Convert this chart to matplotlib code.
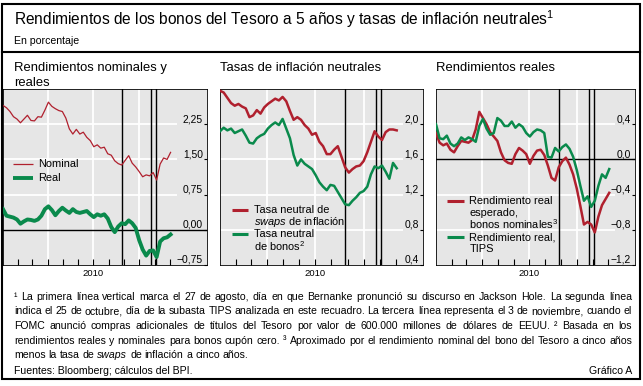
import matplotlib.pyplot as plt
import pandas as pd
from matplotlib.lines import Line2D
from matplotlib.patches import Rectangle

plt.rcParams["font.family"] = ["Liberation Sans", "DejaVu Sans"]
plt.rcParams["mathtext.fontset"] = "custom"
plt.rcParams["mathtext.rm"] = "Liberation Sans"
plt.rcParams["mathtext.it"] = "Liberation Sans:italic"

# weekly observations, 1 Jan - 3 Dec 2010 (per cent)
dates = pd.date_range("2010-01-01", periods=49, freq="7D")
events = pd.to_datetime(["2010-08-27", "2010-10-25", "2010-11-03"])
month_ticks = pd.date_range("2010-02-01", "2010-12-01", freq="MS")
quarter_lines = pd.to_datetime(["2010-04-01", "2010-07-01", "2010-10-01"])

nominal = [2.65, 2.60, 2.52, 2.41, 2.36, 2.28, 2.36, 2.44, 2.33, 2.32,
           2.41, 2.40, 2.55, 2.72, 2.63, 2.58, 2.54, 2.52, 2.38, 2.15,
           2.04, 2.14, 2.04, 2.08, 1.97, 1.90, 1.77, 1.81, 1.74, 1.76,
           1.62, 1.59, 1.47, 1.41, 1.38, 1.48, 1.58, 1.42, 1.34, 1.24,
           1.13, 1.17, 1.15, 1.22, 1.06, 1.40, 1.53, 1.50, 1.65]
real = [0.44, 0.30, 0.28, 0.26, 0.22, 0.13, 0.18, 0.22, 0.21, 0.19,
        0.22, 0.30, 0.44, 0.50, 0.42, 0.31, 0.40, 0.47, 0.41, 0.36,
        0.44, 0.38, 0.36, 0.38, 0.40, 0.33, 0.27, 0.33, 0.30, 0.33,
        0.24, 0.06, -0.05, 0.07, 0.14, 0.12, 0.20, 0.14, 0.04, -0.22,
        -0.42, -0.55, -0.45, -0.44, -0.58, -0.25, -0.18, -0.16, -0.10]

swap_be = [2.38, 2.36, 2.30, 2.24, 2.21, 2.23, 2.20, 2.18, 2.08, 2.10,
           2.16, 2.12, 2.19, 2.23, 2.26, 2.29, 2.27, 2.31, 2.26, 2.15,
           2.05, 2.08, 2.05, 1.99, 1.95, 1.88, 1.90, 1.80, 1.75, 1.66,
           1.66, 1.71, 1.75, 1.63, 1.51, 1.45, 1.49, 1.52, 1.53, 1.58,
           1.68, 1.80, 1.92, 1.86, 1.82, 1.91, 1.94, 1.94, 1.93]
bond_be = [1.92, 1.96, 1.93, 1.95, 1.90, 1.92, 1.94, 1.87, 1.79, 1.78,
           1.84, 1.87, 1.89, 1.95, 1.99, 2.02, 1.99, 2.06, 1.95, 1.84,
           1.65, 1.53, 1.60, 1.55, 1.52, 1.49, 1.42, 1.34, 1.29, 1.25,
           1.31, 1.30, 1.23, 1.16, 1.09, 1.08, 1.13, 1.17, 1.22, 1.24,
           1.29, 1.43, 1.52, 1.50, 1.53, 1.46, 1.38, 1.56, 1.50]

exp_real = [0.30, 0.19, 0.16, 0.18, 0.11, 0.08, 0.15, 0.21, 0.20, 0.19,
            0.22, 0.34, 0.54, 0.47, 0.40, 0.31, 0.26, 0.21, 0.08, -0.01,
            -0.04, -0.05, 0.06, 0.13, 0.10, 0.06, -0.05, 0.04, 0.10, 0.11,
            0.05, -0.07, -0.21, -0.24, -0.09, -0.02, 0.02, -0.06, -0.17, -0.33,
            -0.53, -0.74, -0.71, -0.74, -0.83, -0.65, -0.52, -0.45, -0.38]
tips_real = [0.40, 0.24, 0.23, 0.27, 0.18, 0.15, 0.18, 0.25, 0.22, 0.25,
             0.23, 0.20, 0.38, 0.46, 0.35, 0.28, 0.30, 0.47, 0.44, 0.38,
             0.38, 0.43, 0.36, 0.40, 0.37, 0.30, 0.26, 0.31, 0.34, 0.33,
             0.30, 0.03, 0.02, 0.13, 0.09, 0.14, 0.17, 0.12, 0.03, -0.12,
             -0.30, -0.47, -0.42, -0.54, -0.47, -0.30, -0.17, -0.21, -0.11]

RED = "#b0202e"
GREEN = "#0a8a4c"
GREY = "#e6e6e6"

W, H = 643, 386
fig = plt.figure(figsize=(W / 100, H / 100), dpi=100)


def fy(y):
    return 1 - y / H


def panel(x0, x1, days, ylim, yticks, decimals, zero=False):
    ax = fig.add_axes([x0 / W, fy(265), (x1 - x0) / W, 176 / H])
    ax.set_facecolor(GREY)
    start = pd.Timestamp("2010-01-01")
    ax.set_xlim(start, start + pd.Timedelta(days=days))
    ax.set_ylim(*ylim)
    for s in ax.spines.values():
        s.set_linewidth(0.6)
    grid_end = pd.Timestamp("2010-12-15")
    for v in yticks[1:]:
        if v != 0:
            ax.hlines(v, start, grid_end, colors="white", lw=1.3, zorder=1)
    for d in quarter_lines:
        ax.axvline(d, color="white", lw=1.3, zorder=1)
    if zero:
        ax.axhline(0, color="black", lw=1.0, zorder=2)
    for d in events:
        ax.axvline(d, color="black", lw=1.0, zorder=2)

    ax.set_xticks(month_ticks, labels=["2010" if m.month == 7 else "" for m in month_ticks])
    ax.tick_params(axis="x", direction="in", length=4.5, width=0.8, pad=3, labelsize=6.8)

    ax.yaxis.tick_right()
    labels = [f"{v:.{decimals}f}".replace(".", ",").replace("-", "\u2212") for v in yticks]
    ax.set_yticks(yticks, labels=labels)
    ax.tick_params(axis="y", direction="in", length=2.5, width=0.8, pad=-3, labelsize=7.4)
    for lbl in ax.get_yticklabels():
        lbl.set_horizontalalignment("right")
        lbl.set_verticalalignment("bottom")
    return ax


def key(ax, y, color, lw, lines, x0=0.055, x1=0.14, tx=0.167, step=0.066):
    ax.plot([x0, x1], [y, y], color=color, lw=lw, transform=ax.transAxes,
            solid_capstyle="butt", zorder=5)
    for i, s in enumerate(lines):
        ax.text(tx, y - i * step, s, transform=ax.transAxes, fontsize=7.9,
                va="center", ha="left", zorder=5)


# Panel 1: nominal and real yields
ax1 = panel(3, 207, 409, (-0.75, 3.0), [-0.75, 0.0, 0.75, 1.5, 2.25], 2, zero=True)
ax1.plot(dates, nominal, color=RED, lw=0.9, zorder=3)
ax1.plot(dates, real, color=GREEN, lw=2.8, zorder=3)
key(ax1, 0.574, RED, 0.9, ["Nominal"], x0=0.049, x1=0.147, tx=0.172)
key(ax1, 0.494, GREEN, 2.8, ["Real"], x0=0.049, x1=0.147, tx=0.172)

# Panel 2: breakeven inflation rates
ax2 = panel(220, 423, 386, (0.4, 2.4), [0.4, 0.8, 1.2, 1.6, 2.0], 1)
ax2.plot(dates, swap_be, color=RED, lw=1.8, zorder=3)
ax2.plot(dates, bond_be, color=GREEN, lw=1.8, zorder=3)
key(ax2, 0.3125, RED, 2.2, ["Tasa neutral de", r"$\it{swaps}$ de inflación"], x0=0.059, x1=0.138)
key(ax2, 0.176, GREEN, 2.2, ["Tasa neutral", r"de bonos$^2$"], x0=0.059, x1=0.138)

# Panel 3: real yields
ax3 = panel(436, 635, 386, (-1.2, 0.8), [-1.2, -0.8, -0.4, 0.0, 0.4], 1, zero=True)
ax3.plot(dates, exp_real, color=RED, lw=1.8, zorder=3)
ax3.plot(dates, tips_real, color=GREEN, lw=1.8, zorder=3)
key(ax3, 0.364, RED, 2.2, ["Rendimiento real", "esperado,", r"bonos nominales$^3$"])
key(ax3, 0.159, GREEN, 2.2, ["Rendimiento real,", "TIPS"])

# titles
fig.text(14 / W, fy(19), r"Rendimientos de los bonos del Tesoro a 5 años y tasas de inflación neutrales$^1$",
         fontsize=11.2, va="center", ha="left")
fig.text(14 / W, fy(41), "En porcentaje", fontsize=7.6, va="center", ha="left")
fig.text(14 / W, fy(68), "Rendimientos nominales y", fontsize=9.4, va="center", ha="left")
fig.text(14 / W, fy(83), "reales", fontsize=9.4, va="center", ha="left")
fig.text(220 / W, fy(68), "Tasas de inflación neutrales", fontsize=9.4, va="center", ha="left")
fig.text(436 / W, fy(68), "Rendimientos reales", fontsize=9.4, va="center", ha="left")

# footnotes, justified word by word
renderer = fig.canvas.get_renderer()


def justify(y, line, last=False, size=7.6, x0=14, x1=632, italic=("swaps",)):
    words = line.split()
    texts = [fig.text(0, fy(y), w, fontsize=size, va="center", ha="left",
                      style="italic" if w in italic else "normal") for w in words]
    widths = [t.get_window_extent(renderer).width for t in texts]
    if last:
        gap = 0.278 * size * 100 / 72
    else:
        gap = max((x1 - x0 - sum(widths)) / (len(words) - 1), 1.5)
    x = x0
    for t, w in zip(texts, widths):
        t.set_x(x / W)
        x += w + gap


notes = [
    "\u00b9 La primera línea vertical marca el 27 de agosto, día en que Bernanke pronunció su discurso en Jackson Hole. La segunda línea",
    "indica el 25 de octubre, día de la subasta TIPS analizada en este recuadro. La tercera línea representa el 3 de noviembre, cuando el",
    "FOMC anunció compras adicionales de títulos del Tesoro por valor de 600.000 millones de dólares de EEUU. \u00b2 Basada en los",
    "rendimientos reales y nominales para bonos cupón cero. \u00b3 Aproximado por el rendimiento nominal del bono del Tesoro a cinco años",
    "menos la tasa de swaps de inflación a cinco años.",
]
for i, line in enumerate(notes):
    justify(297 + i * 14.5, line, last=(i == len(notes) - 1))

fig.text(14 / W, fy(371), "Fuentes: Bloomberg; cálculos del BPI.", fontsize=7.6, va="center", ha="left")
fig.text(632 / W, fy(371), "Gráfico A", fontsize=7.6, va="center", ha="right")

# frame
fig.add_artist(Rectangle((2 / W, fy(379)), 638 / W, 375 / H, transform=fig.transFigure,
                         fill=False, lw=1.5, ec="black"))
fig.add_artist(Line2D([2 / W, 640 / W], [fy(52), fy(52)], color="black", lw=1.5))

fig.savefig("out.png", dpi=100)
